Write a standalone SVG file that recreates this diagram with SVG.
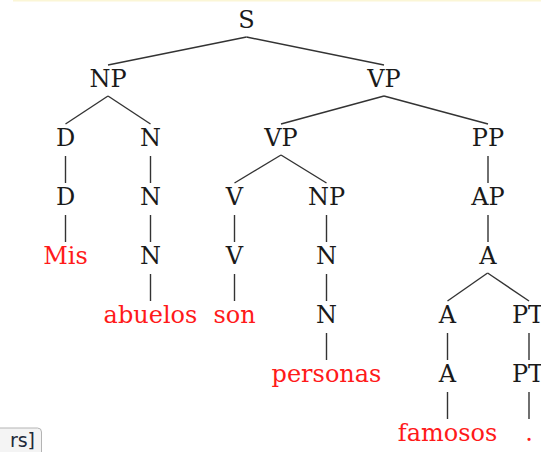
<svg xmlns="http://www.w3.org/2000/svg" width="541" height="452" viewBox="0 0 541 452">
<style>
.t{font-family:"DejaVu Serif","Liberation Serif",serif;font-size:24px;text-anchor:middle;fill:#1a1a1a}
.w{fill:#ff1a1a}
.e line{stroke:#333333;stroke-width:1.4;fill:none}
.btn{font-family:"DejaVu Sans","Liberation Sans",sans-serif;font-size:19px;fill:#1e2a3a;text-anchor:end}
</style>
<rect x="0" y="0" width="541" height="452" fill="#ffffff"/>
<rect x="13" y="0" width="528" height="1.5" fill="#fbf6d6"/>
<g id="connectors" class="e">
<line x1="246.5" y1="37" x2="108" y2="65"/>
<line x1="246.5" y1="37" x2="384" y2="65"/>
<line x1="108" y1="96" x2="65.5" y2="124"/>
<line x1="108" y1="96" x2="150.5" y2="124"/>
<line x1="384" y1="96" x2="281" y2="124"/>
<line x1="384" y1="96" x2="488" y2="124"/>
<line x1="65.5" y1="156" x2="65.5" y2="183"/>
<line x1="150.5" y1="156" x2="150.5" y2="183"/>
<line x1="281" y1="155" x2="234.5" y2="183"/>
<line x1="281" y1="155" x2="326.5" y2="183"/>
<line x1="488" y1="156" x2="488" y2="183"/>
<line x1="65.5" y1="215" x2="65.5" y2="242"/>
<line x1="150.5" y1="215" x2="150.5" y2="242"/>
<line x1="234.5" y1="215" x2="234.5" y2="242"/>
<line x1="326.5" y1="215" x2="326.5" y2="242"/>
<line x1="488" y1="215" x2="488" y2="242"/>
<line x1="150.5" y1="274" x2="150.5" y2="301"/>
<line x1="234.5" y1="274" x2="234.5" y2="301"/>
<line x1="326.5" y1="274" x2="326.5" y2="301"/>
<line x1="487.6" y1="273" x2="447.5" y2="301"/>
<line x1="487.6" y1="273" x2="529" y2="301"/>
<line x1="326.5" y1="333" x2="326.5" y2="360"/>
<line x1="447.5" y1="333" x2="447.5" y2="360"/>
<line x1="529" y1="333" x2="529" y2="360"/>
<line x1="447.5" y1="392" x2="447.5" y2="419"/>
<line x1="529" y1="392" x2="529" y2="419"/>
</g>
<g id="n-S"><text class="t" x="246.5" y="28">S</text></g>
<g id="n-NP"><text class="t" x="108" y="87">NP</text></g>
<g id="n-VP"><text class="t" x="384" y="87">VP</text></g>
<g id="n-D1"><text class="t" x="65.5" y="146">D</text></g>
<g id="n-N1"><text class="t" x="150.5" y="146">N</text></g>
<g id="n-VP2"><text class="t" x="281" y="146">VP</text></g>
<g id="n-PP"><text class="t" x="488" y="146">PP</text></g>
<g id="n-D2"><text class="t" x="65.5" y="205">D</text></g>
<g id="n-N2"><text class="t" x="150.5" y="205">N</text></g>
<g id="n-V1"><text class="t" x="234.5" y="205">V</text></g>
<g id="n-NP2"><text class="t" x="326.5" y="205">NP</text></g>
<g id="n-AP"><text class="t" x="488" y="205">AP</text></g>
<g id="w-Mis"><text class="t w" x="65.5" y="264">Mis</text></g>
<g id="n-N3"><text class="t" x="150.5" y="264">N</text></g>
<g id="n-V2"><text class="t" x="234.5" y="264">V</text></g>
<g id="n-N4"><text class="t" x="326.5" y="264">N</text></g>
<g id="n-A1"><text class="t" x="488" y="264">A</text></g>
<g id="w-abuelos"><text class="t w" x="150.5" y="323">abuelos</text></g>
<g id="w-son"><text class="t w" x="234.5" y="323">son</text></g>
<g id="n-N5"><text class="t" x="326.5" y="323">N</text></g>
<g id="n-A2"><text class="t" x="447.5" y="323">A</text></g>
<g id="n-PT1"><text class="t" x="528" y="323">PT</text></g>
<g id="w-personas"><text class="t w" x="326.5" y="382">personas</text></g>
<g id="n-A3"><text class="t" x="447.5" y="382">A</text></g>
<g id="n-PT2"><text class="t" x="528" y="382">PT</text></g>
<g id="w-famosos"><text class="t w" x="447.5" y="441">famosos</text></g>
<g id="w-dot"><text class="t w" x="529" y="441">.</text></g>
<g id="ui-button">
<rect x="-20" y="428" width="61.5" height="40" rx="4" fill="#f4f4f4" stroke="#b4b4b4" stroke-width="1"/>
<text class="btn" x="35" y="447">rs]</text>
</g>
</svg>
